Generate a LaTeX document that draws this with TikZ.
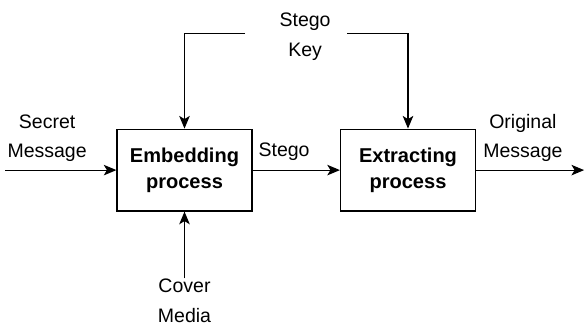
\documentclass[tikz,border=0pt]{standalone}
\usepackage{fontspec}
\setmainfont{Liberation Sans}
\usetikzlibrary{arrows.meta,positioning}

\begin{document}
\begin{tikzpicture}[
    line width=1.1pt,
    every node/.style={font=\fontsize{18.5}{28}\selectfont, align=center},
    block/.style={draw, minimum width=4.5cm, minimum height=2.73cm,
        font=\fontsize{19}{25}\selectfont\bfseries},
    arr/.style={-{Stealth[length=12pt,width=10pt,inset=3pt]}}
]
\useasboundingbox (0,0) rectangle (19.5,10.9);

% Process blocks
\node[block] (embed) at (6.15,5.23) {Embedding\\process};
\node[block] (extract) at (13.6,5.23) {Extracting\\process};

% Message path
\coordinate (in) at (0.17,5.23);
\coordinate (out) at (19.47,5.23);
\draw[arr] (in) -- (embed);
\draw[arr] (embed) -- (extract);
\draw[arr] (extract) -- (out);

\node (secret) at (1.57,6.3) {Secret\\Message};
\node (stego) at (9.47,5.83) {Stego};
\node (orig) at (17.43,6.3) {Original\\Message};

% Key
\node (key) at (10.17,9.67) {Stego\\Key};
\coordinate (kl) at (8.17,9.77);
\coordinate (kr) at (11.57,9.77);
\draw[arr] (kl) -| (embed.north);
\draw[arr] (kr) -| (extract.north);

% Cover
\node[inner sep=0pt] (cover) at (6.15,0.88) {Cover\\Media};
\draw[arr] (cover.north) -- (embed.south);

\end{tikzpicture}
\end{document}
